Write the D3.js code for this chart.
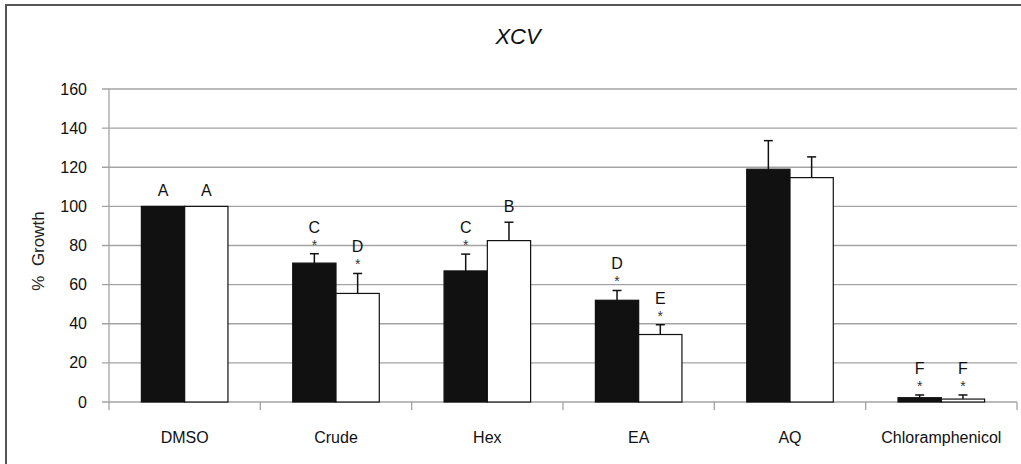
<!DOCTYPE html>
<html>
<head>
<meta charset="utf-8">
<script src="https://cdn.jsdelivr.net/npm/d3@7"></script>
<style>
  html, body { margin: 0; padding: 0; background: #fff; }
  svg { display: block; font-family: "Liberation Sans", Arial, sans-serif; }
</style>
</head>
<body>
<svg id="chart" width="1021" height="464"></svg>
<script>
// Growth of XCV relative to DMSO control, two treatments per extract
const categories = ["DMSO", "Crude", "Hex", "EA", "AQ", "Chloramphenicol"];
const blackValues = [100, 71, 67, 52, 119, 2.2];
const blackErrors = [0, 4.8, 8.6, 5, 14.6, 1.4];
const whiteValues = [100, 55.5, 82.5, 34.5, 114.7, 1.5];
const whiteErrors = [0, 10.2, 9.4, 5, 10.6, 2.1];
const blackLetters = ["A", "C", "C", "D", "", "F"];
const whiteLetters = ["A", "D", "B", "E", "", "F"];
const blackStars = [false, true, true, true, false, true];
const whiteStars = [false, true, false, true, false, true];
const yTicks = [0, 20, 40, 60, 80, 100, 120, 140, 160];

const svg = d3.select("#chart");
const W = 1021, H = 464;
const plotLeft = 109, plotRight = 1017, plotTop = 89, plotBottom = 402;

// outer frame
svg.append("path")
  .attr("d", `M6,${H} L6,5 L${W},5`)
  .attr("fill", "none")
  .attr("stroke", "#555")
  .attr("stroke-width", 2);

const y = d3.scaleLinear().domain([0, 160]).range([plotBottom, plotTop]);
const x = d3.scaleBand().domain(categories).range([plotLeft, plotRight]).paddingInner(0).paddingOuter(0);
const pairWidth = x.bandwidth() * 0.572;
const sub = d3.scaleBand().domain(["black", "white"]).range([0, pairWidth]);

// gridlines with left tick stubs
svg.append("g").selectAll("line").data(yTicks).join("line")
  .attr("x1", plotLeft - 7).attr("x2", plotRight)
  .attr("y1", d => y(d)).attr("y2", d => y(d))
  .attr("stroke", "#a3a3a3").attr("stroke-width", 1.3);

// y axis line
svg.append("line")
  .attr("x1", plotLeft).attr("x2", plotLeft)
  .attr("y1", plotTop).attr("y2", plotBottom + 8)
  .attr("stroke", "#a3a3a3").attr("stroke-width", 1.3);

// category boundary ticks
const bounds = categories.map(c => x(c) + x.bandwidth());
svg.append("g").selectAll("line").data(bounds).join("line")
  .attr("x1", d => d).attr("x2", d => d)
  .attr("y1", plotBottom).attr("y2", plotBottom + 8)
  .attr("stroke", "#a3a3a3").attr("stroke-width", 1.3);

// y tick labels
svg.append("g").selectAll("text").data(yTicks).join("text")
  .attr("x", 87).attr("y", d => y(d) + 5.5)
  .attr("text-anchor", "end")
  .attr("font-size", 16).attr("fill", "#111")
  .text(d => d);

// y axis title
svg.append("text")
  .attr("transform", "translate(44,251) rotate(-90)")
  .attr("text-anchor", "middle")
  .attr("font-size", 17).attr("fill", "#222")
  .style("white-space", "pre")
  .text("%  Growth");

// chart title
svg.append("text")
  .attr("x", 518).attr("y", 44)
  .attr("text-anchor", "middle")
  .attr("font-size", 22).attr("font-style", "italic").attr("fill", "#111")
  .text("XCV");

// category labels
svg.append("g").selectAll("text").data(categories).join("text")
  .attr("x", d => x(d) + x.bandwidth() / 2).attr("y", 443)
  .attr("text-anchor", "middle")
  .attr("font-size", 16).attr("fill", "#111")
  .text(d => d);

const rows = categories.map((c, i) => [
  { c, key: "black", v: blackValues[i], e: blackErrors[i], l: blackLetters[i], s: blackStars[i] },
  { c, key: "white", v: whiteValues[i], e: whiteErrors[i], l: whiteLetters[i], s: whiteStars[i] }
]).flat();

const cx = d => x(d.c) + (x.bandwidth() - pairWidth) / 2 + sub(d.key) + sub.bandwidth() / 2;

// bars
svg.append("g").selectAll("rect").data(rows).join("rect")
  .attr("x", d => cx(d) - sub.bandwidth() / 2)
  .attr("width", sub.bandwidth())
  .attr("y", d => y(d.v))
  .attr("height", d => y(0) - y(d.v))
  .attr("fill", d => d.key === "black" ? "#111" : "#fff")
  .attr("stroke", "#111").attr("stroke-width", 1.2);

// upper error bars
const eb = svg.append("g").attr("stroke", "#111").attr("stroke-width", 1.5);
rows.filter(d => d.e > 0).forEach(d => {
  eb.append("line").attr("x1", cx(d)).attr("x2", cx(d)).attr("y1", y(d.v)).attr("y2", y(d.v + d.e));
  eb.append("line").attr("x1", cx(d) - 4.5).attr("x2", cx(d) + 4.5).attr("y1", y(d.v + d.e)).attr("y2", y(d.v + d.e));
});

// significance stars and group letters
rows.forEach(d => {
  const t = y(d.v + d.e);
  if (d.s) {
    svg.append("text").attr("x", cx(d)).attr("y", t - 4)
      .attr("text-anchor", "middle").attr("font-size", 14).attr("fill", "#333")
      .text("*");
  }
  if (d.l) {
    svg.append("text").attr("x", cx(d)).attr("y", d.s ? t - 21 : t - 10)
      .attr("text-anchor", "middle").attr("font-size", 16).attr("fill", "#111")
      .text(d.l);
  }
});
</script>
</body>
</html>
